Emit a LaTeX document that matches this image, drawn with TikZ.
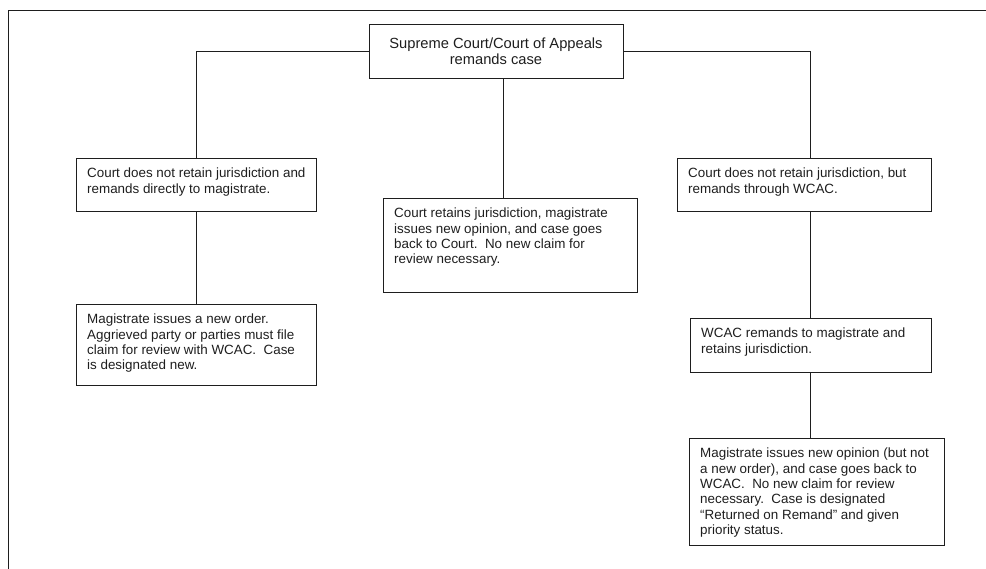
\documentclass[tikz,border=0pt]{standalone}
\usepackage{fontspec}
\setmainfont{Liberation Sans}
\usetikzlibrary{positioning}
\frenchspacing

\definecolor{ink}{HTML}{1E1E1E}
\tikzset{
  box/.style={draw=ink, line width=0.9pt, anchor=north west, inner sep=0pt},
  txt/.style={anchor=north west, align=left, inner xsep=11pt, inner ysep=10pt,
    text=ink, font=\fontsize{13.4}{15.3}\selectfont},
  link/.style={draw=ink, line width=0.9pt}
}

\begin{document}
\begin{tikzpicture}[x=1pt, y=-1pt]

\useasboundingbox (0,0) rectangle (986,569);

% page frame, only top and left edges show
\draw[link] (986,10) -- (8,10) -- (8,569);

\node (top)[box, anchor=center, minimum width=254pt, minimum height=54pt, align=center,
  text=ink, font=\fontsize{14.7}{15.6}\selectfont] at (496,51)
  {Supreme Court/Court of Appeals\\remands case};

% left branch
\node (l1)[box, minimum width=240pt, minimum height=53pt] at (76,158) {};
\node (l1t)[txt] at (l1.north west) {Court does not retain jurisdiction and\\remands directly to magistrate.};
\node (l2)[box, minimum width=240pt, minimum height=81pt] at (76,304) {};
\node (l2t)[txt] at (l2.north west) {Magistrate issues a new order.\\Aggrieved party or parties must file\\claim for review with WCAC.~~Case\\is designated new.};

% middle branch
\node (mid)[box, minimum width=254pt, minimum height=94pt] at (383,198) {};
\node (midt)[txt] at (mid.north west) {Court retains jurisdiction, magistrate\\issues new opinion, and case goes\\back to Court.~~No new claim for\\review necessary.};

% right branch
\node (r1)[box, minimum width=254pt, minimum height=53pt] at (677,158) {};
\node (r1t)[txt] at (r1.north west) {Court does not retain jurisdiction, but\\remands through WCAC.};
\node (r2)[box, minimum width=241pt, minimum height=54pt] at (690,318) {};
\node (r2t)[txt] at (r2.north west) {WCAC remands to magistrate and\\retains jurisdiction.};
\node (r3)[box, minimum width=255pt, minimum height=107pt] at (689,438) {};
\node (r3t)[txt] at (r3.north west) {Magistrate issues new opinion (but not\\a new order), and case goes back to\\WCAC.~~No new claim for review\\necessary.~~Case is designated\\“Returned on Remand” and given\\priority status.};

\coordinate (mx) at (503,0);
\coordinate (rx) at (810,0);

\draw[link] (top.west) -| (l1.north);
\draw[link] (l1.south) -- (l2.north);
\draw[link] (top.south -| mx) -- (mid.north -| mx);
\draw[link] (top.east) -| (rx |- r1.north);
\draw[link] (r1.south -| rx) -- (r2.north -| rx);
\draw[link] (r2.south -| rx) -- (r3.north -| rx);

\end{tikzpicture}
\end{document}
